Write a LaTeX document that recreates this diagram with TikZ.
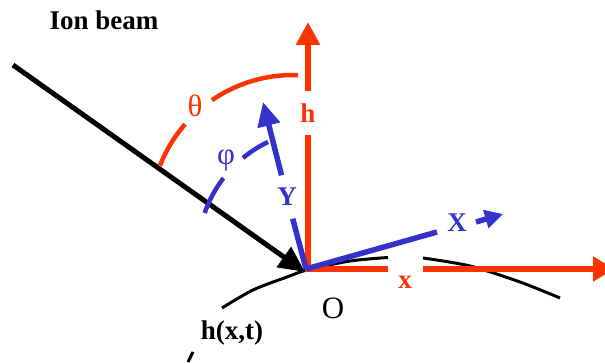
\documentclass[tikz,border=0pt]{standalone}
\usepackage{fontspec}
\setmainfont{Liberation Serif}
\usetikzlibrary{arrows.meta}
\definecolor{myred}{RGB}{255,51,0}
\definecolor{myblue}{RGB}{51,51,204}
\begin{document}
\begin{tikzpicture}[x=1pt,y=-1pt,
  lab/.style={font=\fontsize{27}{30}\selectfont\bfseries, inner sep=0pt},
  rlab/.style={font=\fontsize{31}{34}\selectfont, inner sep=0pt},
  redline/.style={draw=myred, line width=6pt},
  blueline/.style={draw=myblue, line width=5.5pt},
  redarc/.style={draw=myred, line width=4.5pt},
  bluearc/.style={draw=myblue, line width=4.5pt}]
\useasboundingbox (0,0) rectangle (605,363);

% surface h(x,t)
\draw[line width=3pt] plot[smooth] coordinates {(222,308) (253,290) (287,277) (307,270) (350,261) (388,257.5)};
\draw[line width=3pt] plot[smooth] coordinates {(423,258) (470,266) (520,282) (560,298)};
\coordinate (tk1) at (188,362);
\coordinate (tk2) at (193,352);
\draw[line width=3pt] (tk1) -- (tk2);

% ion beam
\coordinate (beamstart) at (13,65);
\coordinate (btip) at (305,272);
\draw[line width=5pt, -{Triangle[length=26pt,width=24pt]}] (beamstart) -- (btip);

% red axes
\coordinate (O) at (308,269);
\coordinate (htip) at (308,22);
\coordinate (xa) at (388,269);
\coordinate (xb) at (423,269);
\coordinate (xtip) at (614,269);
\node[lab, text=myred, minimum height=43pt] (hlab) at (308,113) {h};
\draw[redline, line join=miter] (hlab.south) -- (O) -- (xa);
\draw[redline, -{Triangle[length=23pt,width=23pt]}] (hlab.north) -- (htip);
\draw[redline, -{Triangle[length=21pt,width=24pt]}] (xb) -- (xtip);
\node[lab, text=myred] (xlab) at (405,282) {x};

% blue axes
\coordinate (Ob) at (306,269);
\coordinate (Ytip) at (263,102);
\node[lab, text=myblue, minimum height=43pt] (Ylab) at (287,197) {Y};
\draw[blueline] (Ob) -- (Ylab);
\draw[blueline, -{Triangle[length=24pt,width=22pt]}] (Ylab) -- (Ytip);
\coordinate (Xend) at (437,232);
\draw[blueline] (Ob) -- (Xend);
\node[lab, text=myblue] (Xlab) at (457,223) {X};
\coordinate (Xs) at (476,222);
\coordinate (Xt) at (503,214);
\draw[blueline, -{Triangle[length=18pt,width=18pt]}] (Xs) -- (Xt);

% angle theta
\draw[redarc] plot[domain=139:158.5, samples=20] ({293+143*cos(\x)},{218-143*sin(\x)});
\draw[redarc] plot[domain=88:124.5, samples=20] ({293+143*cos(\x)},{218-143*sin(\x)});
\node[rlab, text=myred] (theta) at (195,106) {θ};

% angle phi
\draw[bluearc] plot[domain=142.5:161, samples=20] ({321+123*cos(\x)},{253-123*sin(\x)});
\draw[bluearc] plot[domain=115.5:129.4, samples=20] ({321+123*cos(\x)},{253-123*sin(\x)});
\node[rlab, text=myblue] (phi) at (226,160) {φ};

% texts
\node[lab] (ion) at (104,20) {Ion beam};
\node[lab] (hxt) at (232,333) {h(x,t)};
\node[rlab] (Olab) at (333,308) {O};
\end{tikzpicture}
\end{document}
